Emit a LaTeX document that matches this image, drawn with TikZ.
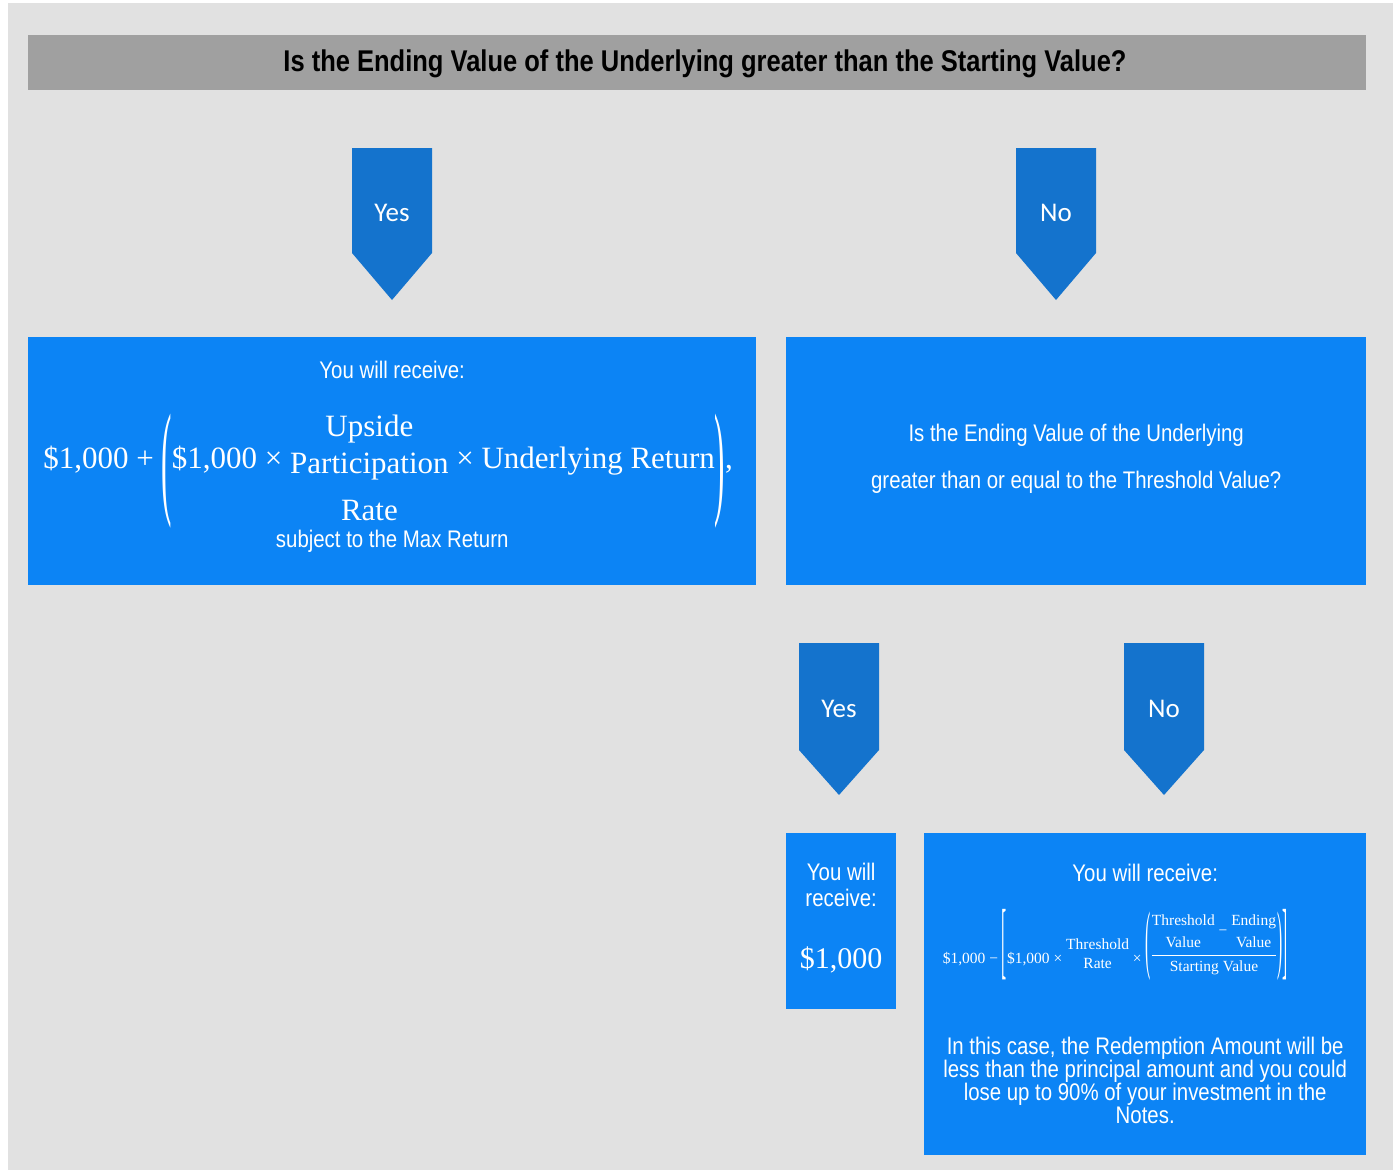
\documentclass[tikz,border=0pt]{standalone}
\usepackage{amsmath}
\usepackage{amssymb}
\usepackage{graphicx}
\usepackage{fontspec}
\setmainfont{Liberation Sans}[FakeStretch=0.85]
\newfontfamily\fml{Liberation Serif}
\newfontfamily\chev{Carlito}

\definecolor{pagegray}{RGB}{225,225,225}
\definecolor{bargray}{RGB}{160,160,160}
\definecolor{boxblue}{RGB}{12,132,245}
\definecolor{arrowblue}{RGB}{20,115,205}

% tall thin delimiter: stretched glyph, moved up or down
\newcommand{\tallglyph}[3]{\raisebox{#2}{\scalebox{1}[#1]{#3}}}

\tikzset{
  box/.style={fill=boxblue, inner sep=0pt, anchor=north west},
  txt/.style={text=white, font=\fontsize{24}{26}\selectfont, align=center, inner sep=0pt},
  answer/.style={text=white, font=\chev\fontsize{27}{27}\selectfont, inner sep=0pt},
}

\begin{document}
\begin{tikzpicture}[x=1pt, y=-1pt]
            \useasboundingbox (0,0) rectangle (1393,1170);
            \fill[white] (0,0) rectangle (1393,1170);
            \fill[pagegray] (8,3) rectangle (1393,1170);
            % question bar
            \node[fill=bargray, minimum width=1338pt, minimum height=55pt, inner sep=0pt] (question) at (697,62.5) {};
            \node[inner sep=0pt, font=\bfseries\fontsize{30}{30}\selectfont] at ([xshift=8pt, yshift=-1pt]question.center)
                  {Is the Ending Value of the Underlying greater than the Starting Value?};
            % first answers
            \fill[arrowblue] (352,148) -- (432,148) -- (432,253) -- (392,300) -- (352,253) -- cycle;
            \node[answer] (yesA) at (392,213) {Yes};
            \fill[arrowblue] (1016,148) -- (1096,148) -- (1096,253) -- (1056,300) -- (1016,253) -- cycle;
            \node[answer] (noA) at (1056,213) {No};
            % gain box
            \node[box, minimum width=728pt, minimum height=248pt] (gain) at (28,337) {};
            \node[txt] at ([yshift=-33pt]gain.north) {You will receive:};
            \node[text=white, inner sep=0pt, anchor=base, font=\fml\fontsize{31}{37}\selectfont]
                  at ([xshift=-4pt, yshift=-131pt]gain.north)
                  {\$1,000 + \tallglyph{4.07}{-33pt}{(}\$1,000 × \raisebox{-9pt}{\begin{tabular}{@{}c@{}}Upside\\Participation\\[10pt]Rate\end{tabular}} × Underlying Return\tallglyph{4.07}{-33pt}{)},};
            \node[txt] at ([yshift=-204pt]gain.north) {subject to the Max Return};
            % threshold question
            \node[box, minimum width=580pt, minimum height=248pt] (thresh) at (786,337) {};
            \node[txt, font=\fontsize{24}{47}\selectfont] at ([yshift=2pt]thresh.center)
                  {Is the Ending Value of the Underlying\\greater than or equal to the Threshold Value?};
            % second answers
            \fill[arrowblue] (799,643) -- (879,643) -- (879,750) -- (839,795) -- (799,750) -- cycle;
            \node[answer] (yesB) at (839,709) {Yes};
            \fill[arrowblue] (1124,643) -- (1204,643) -- (1204,750) -- (1164,795) -- (1124,750) -- cycle;
            \node[answer] (noB) at (1164,709) {No};
            % par box
            \node[box, minimum width=110pt, minimum height=176pt] (par) at (786,833) {};
            \node[txt] at ([yshift=-52pt]par.north) {You will\\receive:};
            \node[text=white, inner sep=0pt, font=\fml\fontsize{30}{30}\selectfont]
                  at ([yshift=-127pt]par.north) {\$1,000};
            % loss box
            \node[box, minimum width=442pt, minimum height=322pt] (loss) at (924,833) {};
            \node[txt] at ([yshift=-40pt]loss.north) {You will receive:};
            \node[text=white, inner sep=0pt, anchor=base, font=\fml\fontsize{15.5}{19}\selectfont]
                  at ([xshift=-30pt, yshift=-130pt]loss.north)
                  {\$1,000 − \tallglyph{5.5}{-5.7pt}{[}\$1,000 × \raisebox{4pt}{\begin{tabular}{@{}c@{}}Threshold\\Rate\end{tabular}} × \tallglyph{4.9}{-1pt}{(}\raisebox{4.4pt}{\(\frac{\mbox{\fontsize{15.5}{22}\selectfont\begin{tabular}{@{}c@{}}Threshold\\Value\end{tabular} − \begin{tabular}{@{}c@{}}Ending\\Value\end{tabular}}}{\mbox{\rule{0pt}{16pt}Starting Value}}\)}\tallglyph{4.9}{-1pt}{)}\tallglyph{5.5}{-5.7pt}{]}};
            \node[txt, font=\fontsize{24}{23}\selectfont] at ([yshift=-247pt]loss.north)
                  {In this case, the Redemption Amount will be\\less than the principal amount and you could\\lose up to 90\% of your investment in the\\Notes.};
        \end{tikzpicture}
\end{document}
